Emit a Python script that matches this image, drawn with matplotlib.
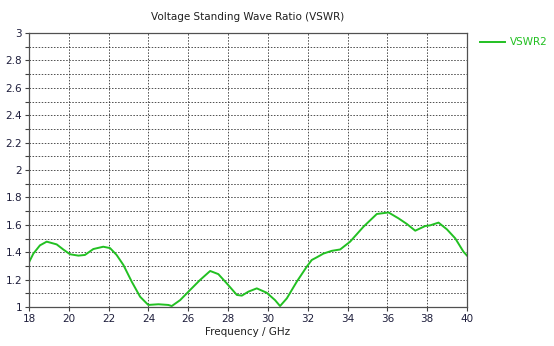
import numpy as np
import matplotlib
matplotlib.use("Agg")
import matplotlib.pyplot as plt
from matplotlib.ticker import MultipleLocator

freq_ghz = [18.0, 18.22, 18.55, 18.89, 19.39, 19.72, 20.06, 20.48, 20.81, 21.23,
            21.73, 22.07, 22.4, 22.74, 23.16, 23.58, 23.99, 24.5, 25.0, 25.17,
            25.59, 26.09, 26.59, 27.1, 27.51, 27.93, 28.44, 28.69, 29.02, 29.44,
            29.94, 30.36, 30.61, 30.95, 31.45, 31.95, 32.2, 32.46, 32.79, 33.21,
            33.63, 34.13, 34.8, 35.47, 36.06, 36.56, 36.98, 37.4, 37.9, 38.15,
            38.57, 38.99, 39.41, 39.82, 40.0]
vswr2 = [1.326, 1.39, 1.45, 1.477, 1.457, 1.42, 1.385, 1.375, 1.38, 1.423,
         1.44, 1.43, 1.38, 1.307, 1.185, 1.075, 1.015, 1.02, 1.015, 1.007,
         1.05, 1.124, 1.197, 1.263, 1.24, 1.173, 1.088, 1.083, 1.112, 1.136,
         1.104, 1.05, 1.007, 1.063, 1.185, 1.294, 1.343, 1.363, 1.39, 1.41,
         1.42, 1.477, 1.586, 1.679, 1.69, 1.647, 1.606, 1.557, 1.591, 1.596,
         1.616, 1.567, 1.501, 1.404, 1.375]

x_ticks = [18, 20, 22, 24, 26, 28, 30, 32, 34, 36, 38, 40]
y_ticks = [1, 1.2, 1.4, 1.6, 1.8, 2, 2.2, 2.4, 2.6, 2.8, 3]
y_tick_labels = ["1", "1.2", "1.4", "1.6", "1.8", "2", "2.2", "2.4", "2.6", "2.8", "3"]

plt.rcParams['font.family'] = ['DejaVu Sans']
fig = plt.figure(figsize=(5.54, 3.46), dpi=100)
ax = fig.add_axes([29 / 554, 1 - 307 / 346, (467 - 29) / 554, (307 - 33) / 346])

green = '#22c022'
line, = ax.plot(freq_ghz, vswr2, color=green, lw=1.4, label='VSWR2',
                solid_joinstyle='round')

ax.set_xlim(18, 40)
ax.set_ylim(1, 3)
ax.set_xticks(x_ticks)
ax.set_yticks(y_ticks)
ax.set_yticklabels(y_tick_labels)
ax.yaxis.set_minor_locator(MultipleLocator(0.1))

label_color = '#1e1e3c'
ax.tick_params(axis='both', which='major', labelsize=7.5, colors='#404040',
               labelcolor=label_color, length=3, width=0.8, direction='out', pad=2)
ax.tick_params(axis='y', which='minor', length=3, width=0.8, colors='#404040')

ax.grid(True, which='major', color='#202020', linestyle=(0, (2, 2)), linewidth=0.55)
ax.grid(True, which='minor', axis='y', color='#202020', linestyle=(0, (2, 2)), linewidth=0.55)

for s in ax.spines.values():
    s.set_color('#505050')
    s.set_linewidth(0.9)

ax.set_title('Voltage Standing Wave Ratio (VSWR)', fontsize=7.5, color='#202020', pad=9)
ax.set_xlabel('Frequency / GHz', fontsize=7.5, color='#202020', labelpad=2)

leg = fig.legend(handles=[line], loc='upper left', bbox_to_anchor=(476 / 554, 1 - 33 / 346),
                 frameon=False, fontsize=7.5, handlelength=2.4, handletextpad=0.5,
                 borderaxespad=0)
for t in leg.get_texts():
    t.set_color(green)

fig.savefig('out.png', dpi=100)
